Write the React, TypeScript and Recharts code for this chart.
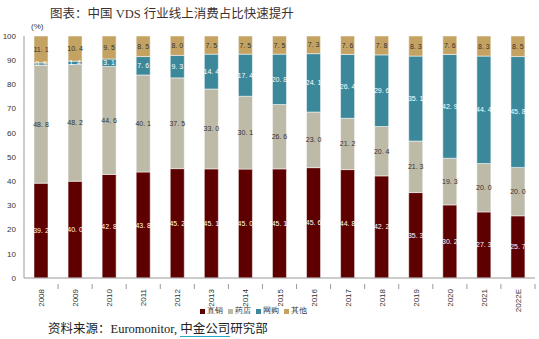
import { BarChart, Bar, XAxis, YAxis, Legend, LabelList } from "recharts";

const years = ["2008", "2009", "2010", "2011", "2012", "2013", "2014", "2015", "2016", "2017", "2018", "2019", "2020", "2021", "2022E"];
const direct = [39.2, 40.0, 42.8, 43.8, 45.2, 45.1, 45.0, 45.1, 45.6, 44.8, 42.2, 35.3, 30.2, 27.3, 25.7];
const pharmacy = [48.8, 48.2, 44.6, 40.1, 37.5, 33.0, 30.1, 26.6, 23.0, 21.2, 20.4, 21.3, 19.3, 20.0, 20.0];
const online = [0.9, 1.4, 3.1, 7.6, 9.3, 14.4, 17.4, 20.8, 24.1, 26.4, 29.6, 35.1, 42.9, 44.4, 45.8];
const other = [11.1, 10.4, 9.5, 8.5, 8.0, 7.5, 7.5, 7.5, 7.3, 7.6, 7.8, 8.3, 7.6, 8.3, 8.5];
const yTicks = [0, 10, 20, 30, 40, 50, 60, 70, 80, 90, 100];

const series = [
  { key: "direct", name: "直销", color: "#5e0000", text: "#fff" },
  { key: "pharmacy", name: "药店", color: "#bdbaa8", text: "#333" },
  { key: "online", name: "网购", color: "#3b889a", text: "#fff" },
  { key: "other", name: "其他", color: "#c4a362", text: "#333" },
];

const data = years.map((year, i) => ({
  year,
  direct: direct[i],
  pharmacy: pharmacy[i],
  online: online[i],
  other: other[i],
}));

const fmt = (v: any) => Number(v).toFixed(1).replace(".", ". ");

const XTick = (props: any) => {
  const { x, y, payload } = props;
  const off = payload.offset || 0;
  return (
    <g>
      <line x1={x + off} y1={y - 2} x2={x + off} y2={y + 3} stroke="#999" />
      <text
        x={x}
        y={y + 3}
        transform={`rotate(-90, ${x}, ${y + 3})`}
        textAnchor="end"
        dy={3}
        fontSize={8}
        fill="#333"
      >
        {payload.value}
      </text>
    </g>
  );
};

const makeLabel = (color: string) => (p: any) => (
  <text
    x={p.x + p.width / 2}
    y={p.y + p.height / 2}
    dy={2.5}
    textAnchor="middle"
    fontSize={7}
    fill={color}
  >
    {fmt(p.value)}
  </text>
);

const LegendContent = () => (
  <div style={{ display: "flex", justifyContent: "center", fontSize: 8, color: "#333", lineHeight: "10px", height: 10 }}>
    {series.map((s) => (
      <span key={s.key} style={{ display: "inline-flex", alignItems: "center", marginRight: 5 }}>
        <span style={{ width: 5, height: 5, background: s.color, marginRight: 2, display: "inline-block" }} />
        <span>{s.name}</span>
      </span>
    ))}
  </div>
);

const serif = '"Liberation Serif", "Noto Sans CJK SC", serif';

export default function App() {
  return (
    <div style={{ position: "absolute", left: 0, top: 0, width: 539, height: 339, background: "#fff", fontFamily: '"Liberation Sans", Arial, sans-serif' }}>
      <div style={{ position: "absolute", left: 50, top: 3, fontSize: 12.5, fontFamily: serif, color: "#3b3030", whiteSpace: "nowrap" }}>
        图表：中国 VDS 行业线上消费占比快速提升
      </div>
      <div style={{ position: "absolute", left: 31, top: 22, fontSize: 8, color: "#333" }}>(%)</div>
      <BarChart
        width={539}
        height={339}
        data={data}
        margin={{ top: 36, right: 4, left: 0, bottom: 20 }}
        barSize={14}
      >
        <XAxis
          dataKey="year"
          height={28}
          interval={0}
          tickLine={false}
          axisLine={{ stroke: "#999" }}
          tick={<XTick />}
        />
        <YAxis
          width={24}
          domain={[0, 100]}
          ticks={yTicks}
          tickLine={false}
          axisLine={{ stroke: "#999" }}
          tick={{ fontSize: 8, fill: "#333" }}
          tickMargin={2}
          interval={0}
        />
        <Legend
          verticalAlign="bottom"
          height={13}
          content={<LegendContent />}
          wrapperStyle={{ bottom: 20, left: -14, width: 539 }}
        />
        {series.map((s) => (
          <Bar
            key={s.key}
            dataKey={s.key}
            name={s.name}
            stackId="a"
            fill={s.color}
            stroke="#fff"
            strokeWidth={0.5}
            isAnimationActive={false}
          >
            <LabelList dataKey={s.key} content={makeLabel(s.text)} />
          </Bar>
        ))}
      </BarChart>
      <div style={{ position: "absolute", left: 48, top: 318, fontSize: 12.5, fontFamily: serif, color: "#222", whiteSpace: "nowrap" }}>
        资料来源：Euromonitor,{" "}
        <span style={{ borderBottom: "1.5px solid #29a8c8" }}>中金公司</span>研究部
      </div>
    </div>
  );
}
